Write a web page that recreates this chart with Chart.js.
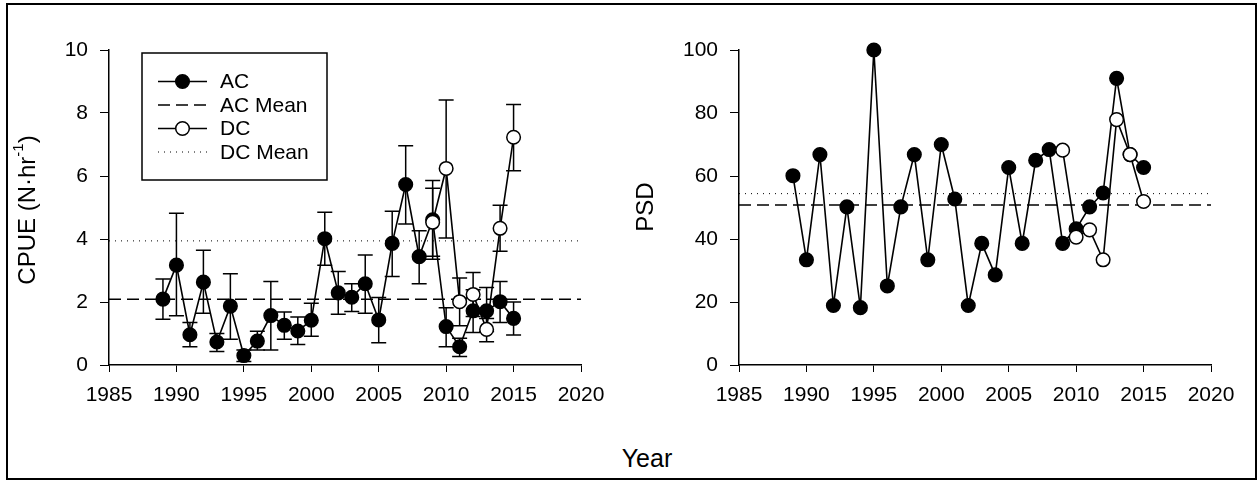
<!DOCTYPE html>
<html>
<head>
<meta charset="utf-8">
<script src="https://cdn.jsdelivr.net/npm/chart.js@4.4.0/dist/chart.umd.min.js"></script>
<style>
  body { margin: 0; background: #fff; }
  #frame { position: absolute; left: 6px; top: 3px; width: 1251px; height: 477px; box-sizing: border-box; border: 2px solid #000; }
  canvas { position: absolute; top: 0; }
  #cpue { left: 0; }
  #psd { left: 630px; }
  #year { position: absolute; left: 547px; width: 200px; top: 444px; text-align: center;
          font: 25px "Liberation Sans", Arial, sans-serif; color: #000; }
</style>
</head>
<body>
<div id="frame"></div>
<canvas id="cpue" width="620" height="420"></canvas>
<canvas id="psd" width="620" height="420"></canvas>
<div id="year">Year</div>
<script>
// AC sampled 1989-2015, DC 2009-2015
var years = [1989, 1990, 1991, 1992, 1993, 1994, 1995, 1996, 1997, 1998, 1999, 2000, 2001, 2002,
             2003, 2004, 2005, 2006, 2007, 2008, 2009, 2010, 2011, 2012, 2013, 2014, 2015];
var dcYears = [2009, 2010, 2011, 2012, 2013, 2014, 2015];

var acCpue   = [2.09, 3.17, 0.96, 2.63, 0.73, 1.87, 0.30, 0.76, 1.57, 1.26, 1.08, 1.42, 4.01, 2.29,
                2.15, 2.58, 1.43, 3.86, 5.73, 3.44, 4.61, 1.22, 0.58, 1.72, 1.72, 2.01, 1.48];
var acCpueHi = [2.73, 4.82, 1.35, 3.64, 1.00, 2.90, 0.48, 1.07, 2.65, 1.68, 1.52, 1.96, 4.85, 2.97,
                2.58, 3.49, 2.14, 4.88, 6.96, 4.26, 5.86, 1.82, 0.85, 2.39, 2.46, 2.65, 2.00];
var acCpueLo = [1.45, 1.56, 0.58, 1.64, 0.43, 0.82, 0.11, 0.48, 0.48, 0.82, 0.65, 0.91, 3.17, 1.61,
                1.70, 1.64, 0.71, 2.81, 4.48, 2.58, 3.36, 0.58, 0.27, 1.03, 1.06, 1.35, 0.95];
var dcCpue   = [4.53, 6.24, 2.01, 2.24, 1.13, 4.34, 7.23];
var dcCpueHi = [5.61, 8.41, 2.76, 2.94, 1.48, 5.07, 8.27];
var dcCpueLo = [3.45, 4.03, 1.25, 1.54, 0.74, 3.61, 6.17];
var acCpueMean = 2.09;
var dcCpueMean = 3.94;

var acPsd = [60.1, 33.4, 66.8, 18.9, 50.2, 18.2, 100, 25.1, 50.2, 66.8, 33.4, 70.0, 52.7, 18.9,
             38.6, 28.6, 62.7, 38.6, 65.0, 68.4, 38.6, 43.2, 50.2, 54.6, 91.0, 66.8, 62.7];
var dcPsd = [68.2, 40.6, 42.9, 33.4, 77.9, 66.8, 51.9];
var acPsdMean = 50.8;
var dcPsdMean = 54.4;

var xRange = [1985, 2020];
var legendLabels = ["AC", "AC Mean", "DC", "DC Mean"];

Chart.defaults.font.family = "'Liberation Sans', Arial, sans-serif";
Chart.defaults.font.size = 21;
Chart.defaults.color = "#000";

function pts(xs, ys) {
  return xs.map(function (x, i) { return { x: x, y: ys[i] }; });
}
function flat(v) {
  return [{ x: xRange[0], y: v }, { x: xRange[1], y: v }];
}

function series(label, xs, ys, fill, order) {
  return {
    label: label, data: pts(xs, ys), borderColor: "#000", borderWidth: 1.6,
    pointRadius: 6.8, pointBackgroundColor: fill, pointBorderColor: "#000",
    pointBorderWidth: 1.5, tension: 0, order: order, clip: false
  };
}
function meanLine(label, v, dash, width) {
  return {
    label: label, data: flat(v), borderColor: "#000", borderWidth: width,
    borderDash: dash, pointRadius: 0, order: 5
  };
}

var errorBars = {
  id: "errorBars",
  beforeDatasetsDraw: function (chart, args, opts) {
    if (!opts.sets) return;
    var ctx = chart.ctx, xs = chart.scales.x, ys = chart.scales.y;
    ctx.save();
    ctx.strokeStyle = "#000";
    ctx.lineWidth = 1.5;
    opts.sets.forEach(function (s) {
      s.x.forEach(function (yr, i) {
        var px = xs.getPixelForValue(yr);
        var top = ys.getPixelForValue(s.hi[i]);
        var bot = ys.getPixelForValue(s.lo[i]);
        ctx.beginPath();
        ctx.moveTo(px, top); ctx.lineTo(px, bot);
        ctx.moveTo(px - 7.5, top); ctx.lineTo(px + 7.5, top);
        ctx.moveTo(px - 7.5, bot); ctx.lineTo(px + 7.5, bot);
        ctx.stroke();
      });
    });
    ctx.restore();
  }
};

var yTitle = {
  id: "yTitle",
  afterDraw: function (chart, args, opts) {
    var ctx = chart.ctx;
    ctx.save();
    ctx.translate(opts.x, opts.y);
    ctx.rotate(-Math.PI / 2);
    ctx.fillStyle = "#000";
    ctx.textBaseline = "middle";
    ctx.textAlign = "left";
    var big = "24px 'Liberation Sans', Arial, sans-serif";
    var small = "15px 'Liberation Sans', Arial, sans-serif";
    ctx.font = big;
    var w1 = ctx.measureText(opts.text).width;
    var w2 = 0, w3 = 0;
    if (opts.sup) {
      ctx.font = small; w2 = ctx.measureText(opts.sup).width;
      ctx.font = big; w3 = ctx.measureText(opts.after).width;
    }
    var x0 = -(w1 + w2 + w3) / 2;
    ctx.font = big;
    ctx.fillText(opts.text, x0, 0);
    if (opts.sup) {
      ctx.font = small;
      ctx.fillText(opts.sup, x0 + w1, -9);
      ctx.font = big;
      ctx.fillText(opts.after, x0 + w1 + w2, 0);
    }
    ctx.restore();
  }
};

var boxLegend = {
  id: "boxLegend",
  afterDraw: function (chart, args, opts) {
    if (!opts.show) return;
    var ctx = chart.ctx;
    ctx.save();
    ctx.strokeStyle = "#000";
    ctx.lineWidth = 1.5;
    ctx.strokeRect(142, 53, 185, 127);
    var rows = [81.5, 105, 128.5, 152];
    ctx.font = "21px 'Liberation Sans', Arial, sans-serif";
    ctx.textBaseline = "middle";
    ctx.fillStyle = "#000";
    rows.forEach(function (ry, i) {
      ctx.beginPath();
      ctx.lineWidth = i === 3 ? 1 : 1.5;
      ctx.setLineDash(i === 1 ? [12, 6] : i === 3 ? [1, 5] : []);
      ctx.moveTo(158, ry); ctx.lineTo(207, ry);
      ctx.stroke();
      ctx.setLineDash([]);
      if (i === 0 || i === 2) {
        ctx.beginPath();
        ctx.arc(182.5, ry, 6.8, 0, Math.PI * 2);
        ctx.fillStyle = i === 0 ? "#000" : "#fff";
        ctx.fill();
        ctx.lineWidth = 1.5;
        ctx.stroke();
        ctx.fillStyle = "#000";
      }
      ctx.fillText(legendLabels[i], 220, ry + 1);
    });
    ctx.restore();
  }
};

function axes(ymax, ystep) {
  return {
    x: {
      type: "linear", min: xRange[0], max: xRange[1],
      afterFit: function (s) { s.height = 55; },
      grid: { display: true, drawOnChartArea: false, drawTicks: true, tickLength: 7, color: "#000", lineWidth: 1 },
      border: { display: true, color: "#000", width: 1.5 },
      ticks: { stepSize: 5, padding: 11, maxRotation: 0, callback: function (v) { return String(v); } }
    },
    y: {
      min: 0, max: ymax,
      afterFit: function (s) { s.width = 109; },
      grid: { display: true, drawOnChartArea: false, drawTicks: true, tickLength: 9, color: "#000", lineWidth: 1 },
      border: { display: true, color: "#000", width: 1.5 },
      ticks: { stepSize: ystep, padding: 12, callback: function (v) { return String(v); } }
    }
  };
}

function makeChart(id, datasets, ymax, ystep, plug) {
  return new Chart(document.getElementById(id), {
    type: "line",
    data: { datasets: datasets },
    options: {
      responsive: false,
      animation: false,
      layout: { padding: { top: 50, right: 39, left: 0, bottom: 0 } },
      scales: axes(ymax, ystep),
      plugins: Object.assign({ legend: { display: false }, tooltip: { enabled: false } }, plug)
    },
    plugins: [errorBars, yTitle, boxLegend]
  });
}

makeChart("cpue", [
  series("DC", dcYears, dcCpue, "#fff", 0),
  series("AC", years, acCpue, "#000", 1),
  meanLine("AC Mean", acCpueMean, [12, 6], 1.5),
  meanLine("DC Mean", dcCpueMean, [1, 5], 1)
], 10, 2, {
  errorBars: { sets: [
    { x: years, lo: acCpueLo, hi: acCpueHi },
    { x: dcYears, lo: dcCpueLo, hi: dcCpueHi }
  ] },
  yTitle: { x: 28, y: 210, text: "CPUE (N\u00b7hr", sup: "-1", after: ")" },
  boxLegend: { show: true }
});

makeChart("psd", [
  series("DC", dcYears, dcPsd, "#fff", 0),
  series("AC", years, acPsd, "#000", 1),
  meanLine("AC Mean", acPsdMean, [12, 6], 1.5),
  meanLine("DC Mean", dcPsdMean, [1, 5], 1)
], 100, 20, {
  yTitle: { x: 16, y: 207, text: "PSD" },
  boxLegend: { show: false }
});
</script>
</body>
</html>
